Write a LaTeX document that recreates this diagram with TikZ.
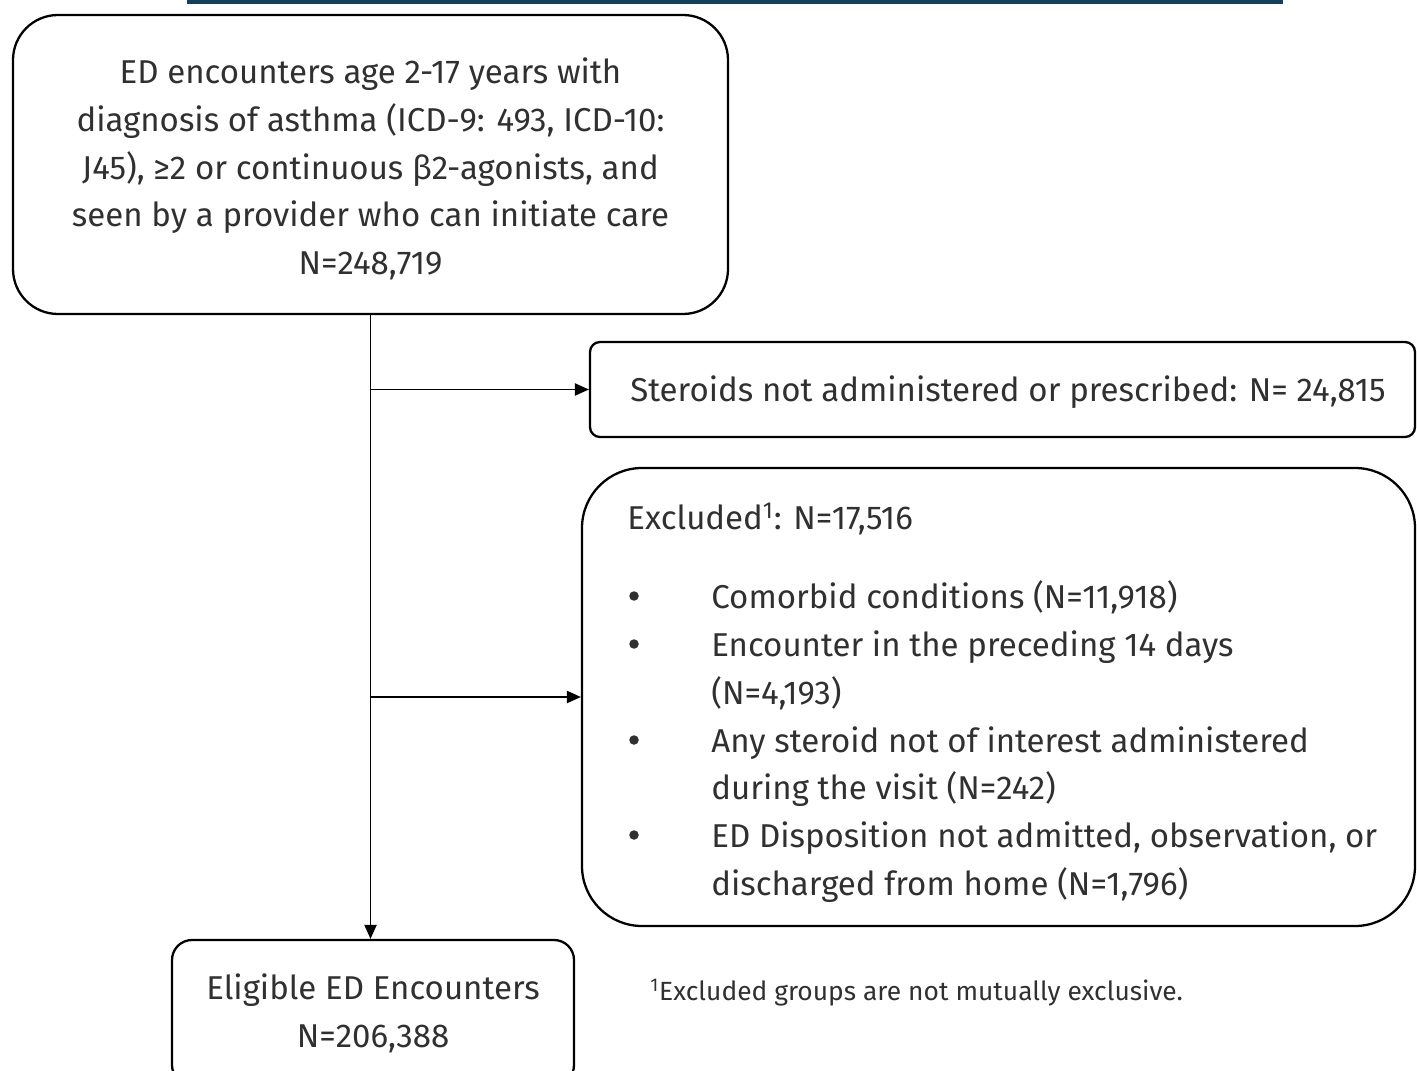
\documentclass[tikz,border=0pt]{standalone}
\usepackage{fontspec}
\setmainfont{Fira Sans}
\usetikzlibrary{arrows.meta}
\definecolor{barblue}{HTML}{143E5A}
\definecolor{inkgray}{HTML}{303030}

\tikzset{
	flowbox/.style={draw, line width=1.3pt, align=center, text=inkgray, inner sep=0pt,
		font=\fontsize{18.8}{27.2}\selectfont},
	flowtext/.style={anchor=west, inner sep=0pt, text=inkgray, text height=18pt, text depth=4pt,
		font=\fontsize{18.8}{27.2}\selectfont},
	bulletdot/.style={circle, fill=inkgray, inner sep=0pt, minimum size=0.19cm},
	flowarrow/.style={line width=0.8pt, -{Triangle[length=8pt, width=7pt]}}
}

\begin{document}
\begin{tikzpicture}[x=0.02cm, y=-0.02cm]
		\useasboundingbox (0,0) rectangle (1417,1071);
		\fill [barblue] (187,0) rectangle (1283,4);

		\node [flowbox, minimum width=715*0.02cm, minimum height=299*0.02cm, rounded corners=0.9cm] (cohort) at (370.5,164.5)
			{};
		\node [align=center, text=inkgray, inner sep=0pt, font=\fontsize{18.8}{27.2}\selectfont] (cohorttext) at (370.5,169)
			{ED encounters age 2-17 years with\\ diagnosis of asthma (ICD-9: 493, ICD-10:\\ J45), ≥2 or continuous β2-agonists, and\\ seen by a provider who can initiate care\\ N=248,719};

		\node [flowbox, minimum width=825*0.02cm, minimum height=95*0.02cm, rounded corners=0.2cm] (steroids) at (1002.5,389.5)
			{};
		\node [flowtext, anchor=center] (steroidstext) at (1008,389.5)
			{Steroids not administered or prescribed: N= 24,815};

		\node [flowbox, minimum width=833*0.02cm, minimum height=458*0.02cm, rounded corners=1.2cm] (excluded) at (998.5,697) {};

		\node [flowbox, minimum width=402*0.02cm, minimum height=145*0.02cm, rounded corners=0.4cm] (eligible) at (373,1012.5)
			{};
		\node [align=center, text=inkgray, inner sep=0pt, font=\fontsize{18.8}{27.2}\selectfont] (eligibletext) at (373,1013)
			{Eligible ED Encounters\\ N=206,388};

		\node [flowtext] (exhead) at (627,517) {Excluded\textsuperscript{1}: N=17,516};
		\foreach \y/\t in {596/{Comorbid conditions (N=11,918)}, 644/{Encounter in the preceding 14 days},
				692/{(N=4,193)}, 740/{Any steroid not of interest administered}, 787/{during the visit (N=242)},
				835/{ED Disposition not admitted, observation, or}, 883/{discharged from home (N=1,796)}}
			\node [flowtext] (item\y) at (711,\y) {\t};
		\foreach \y in {596,644,740,835}
			\node [bulletdot] (dot\y) at (634,\y) {};

		\node [flowtext, font=\fontsize{15}{18}\selectfont] (note) at (650,988)
			{\textsuperscript{1}Excluded groups are not mutually exclusive.};

		\coordinate (split1) at (cohort.south |- steroids.west);
		\coordinate (split2) at (cohort.south |- excluded.west);
		\draw [flowarrow] (cohort.south) -- (cohort.south |- eligible.north);
		\draw [flowarrow] (split1) -- (steroids.west);
		\draw [flowarrow] (split2) -- (excluded.west);
	\end{tikzpicture}
\end{document}
